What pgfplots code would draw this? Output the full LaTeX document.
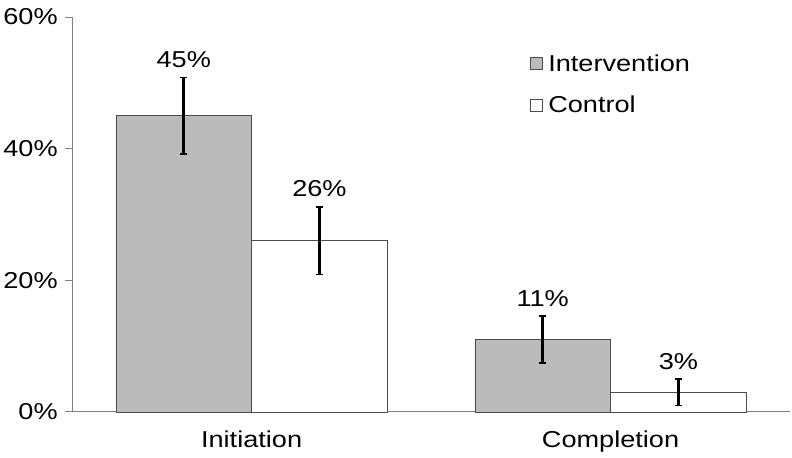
\documentclass[border=0pt]{standalone}
\usepackage{fontspec}
\setmainfont{Liberation Sans}
\usepackage{graphicx}
\usepackage{pgfplots}
\pgfplotsset{compat=1.18}
\newcommand{\sx}[1]{\scalebox{1.18}[1]{#1}}
\definecolor{barg}{HTML}{BBBBBB}
\definecolor{axg}{HTML}{808080}
\begin{document}
\begin{tikzpicture}
\begin{axis}[
  scale only axis,
  width=718pt, height=395pt,
  xmin=-0.5, xmax=1.5,
  ymin=0, ymax=60,
  axis x line*=bottom, axis y line*=left,
  axis line style={axg, line width=0.8pt, -},
  ybar=0pt, bar width=0.378,
  xtick={0,1}, xticklabels={\sx{Initiation},\sx{Completion}},
  x tick style={draw=none},
  minor xtick={-0.5,0.5,1.5},
  minor x tick style={axg, line width=0.8pt},
  minor tick length=8pt,
  ytick={0,20,40,60}, yticklabels={\sx{0\%},\sx{20\%},\sx{40\%},\sx{60\%}},
  y tick style={axg, line width=0.8pt},
  major tick length=7pt,
  tick align=outside,
  tick label style={font=\fontsize{23}{27}\selectfont, text=black},
  xticklabel style={yshift=-8pt},
  yticklabel style={xshift=-4pt},
  legend style={draw=none, fill=none, at={(0.634,0.915)}, anchor=north west,
    font=\fontsize{23}{27}\selectfont, row sep=19pt},
  legend cell align=left,
  legend image code/.code={\draw[#1, line width=0.8pt] (0pt,-6pt) rectangle (12pt,6pt);},
  clip=false,
]
\addplot[fill=barg, draw=black!70, line width=0.6pt,
  error bars/.cd, y dir=both, y explicit,
  error bar style={line width=2.6pt, black},
  error mark options={rotate=90, mark size=3.5pt, line width=1.5pt, black}]
  coordinates {(0,45) +- (0,5.8) (1,11) +- (0,3.6)};
\addlegendentry{\hspace{3pt}\sx{Intervention}}
\addplot[fill=white, draw=black!70, line width=0.6pt,
  error bars/.cd, y dir=both, y explicit,
  error bar style={line width=2.6pt, black},
  error mark options={rotate=90, mark size=3.5pt, line width=1.5pt, black}]
  coordinates {(0,26) +- (0,5.1) (1,3) +- (0,2.0)};
\addlegendentry{\hspace{3pt}\sx{Control}}
\node[anchor=south, font=\fontsize{23}{27}\selectfont, inner sep=0pt] at (axis cs:-0.189,52.2) {\sx{45\%}};
\node[anchor=south, font=\fontsize{23}{27}\selectfont, inner sep=0pt] at (axis cs:0.189,32.6) {\sx{26\%}};
\node[anchor=south, font=\fontsize{23}{27}\selectfont, inner sep=0pt] at (axis cs:0.811,16.0) {\sx{11\%}};
\node[anchor=south, font=\fontsize{23}{27}\selectfont, inner sep=0pt] at (axis cs:1.189,6.4) {\sx{3\%}};
\end{axis}
\path ([yshift=17pt]current axis.north);
\path ([yshift=-46pt]current axis.south);
\path ([xshift=2pt]current axis.east);
\path ([xshift=-72pt]current axis.west);
\end{tikzpicture}
\end{document}
